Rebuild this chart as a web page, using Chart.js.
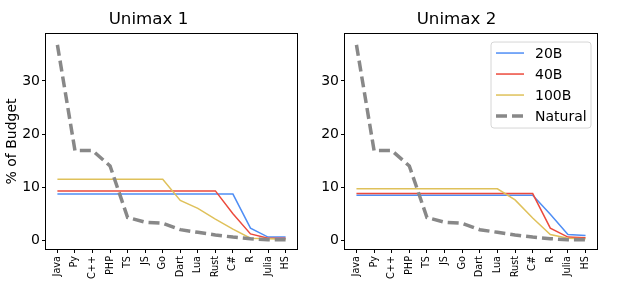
<!DOCTYPE html>
<html><head><meta charset="utf-8">
<script src="https://cdn.jsdelivr.net/npm/chart.js@4.4.1/dist/chart.umd.min.js"></script>
<style>
html,body{margin:0;padding:0;background:#fff;}
#wrap{position:relative;width:632px;height:284px;overflow:hidden;}
.c{position:absolute;top:0;width:316px;height:284px;}
</style></head><body>
<div id="wrap">
<div class="c" style="left:0"><canvas id="c1"></canvas></div>
<div class="c" style="left:316px"><canvas id="c2"></canvas></div>
</div>
<script>
const categories = ['Java','Py','C++','PHP','TS','JS','Go','Dart','Lua','Rust','C#','R','Julia','HS'];
const yTicks = [0, 10, 20, 30];
const seriesNames = ['20B', '40B', '100B', 'Natural'];

const natural = [36.8, 16.9, 16.9, 14.0, 4.3, 3.4, 3.2, 2.0, 1.5, 1.0, 0.6, 0.3, 0.1, 0.1];

const u1_20B  = [8.7, 8.7, 8.7, 8.7, 8.7, 8.7, 8.7, 8.7, 8.7, 8.7, 8.7, 2.3, 0.6, 0.6];
const u1_40B  = [9.3, 9.3, 9.3, 9.3, 9.3, 9.3, 9.3, 9.3, 9.3, 9.3, 5.0, 1.2, 0.4, 0.4];
const u1_100B = [11.5, 11.5, 11.5, 11.5, 11.5, 11.5, 11.5, 7.5, 6.0, 4.0, 2.1, 0.4, 0.3, 0.2];

const u2_20B  = [8.5, 8.5, 8.5, 8.5, 8.5, 8.5, 8.5, 8.5, 8.5, 8.5, 8.5, 4.9, 1.1, 0.9];
const u2_40B  = [8.8, 8.8, 8.8, 8.8, 8.8, 8.8, 8.8, 8.8, 8.8, 8.8, 8.8, 2.3, 0.6, 0.5];
const u2_100B = [9.7, 9.7, 9.7, 9.7, 9.7, 9.7, 9.7, 9.7, 9.7, 7.6, 4.2, 1.1, 0.4, 0.3];

const FONT = 'DejaVu Sans';
const pts = vals => vals.map((v, i) => ({x: i, y: v}));

const framePlugin = {
  id: 'frame',
  afterDatasetsDraw(chart) {
    const ctx = chart.ctx, a = chart.chartArea;
    ctx.save();
    ctx.strokeStyle = '#000';
    ctx.lineWidth = 1;
    ctx.strokeRect(Math.round(a.left) - 0.5, Math.round(a.top) - 0.5,
                   Math.round(a.right - a.left) + 1, Math.round(a.bottom - a.top) + 1);
    ctx.restore();
  }
};

const legendPlugin = {
  id: 'mplLegend',
  afterDraw(chart, args, opts) {
    if (!opts.show) return;
    const ctx = chart.ctx, a = chart.chartArea;
    const w = 100, h = 86;
    const x = a.right - 6 - w, y = a.top + 8;
    ctx.save();
    ctx.beginPath();
    const r = 3;
    ctx.moveTo(x + r, y);
    ctx.lineTo(x + w - r, y); ctx.quadraticCurveTo(x + w, y, x + w, y + r);
    ctx.lineTo(x + w, y + h - r); ctx.quadraticCurveTo(x + w, y + h, x + w - r, y + h);
    ctx.lineTo(x + r, y + h); ctx.quadraticCurveTo(x, y + h, x, y + h - r);
    ctx.lineTo(x, y + r); ctx.quadraticCurveTo(x, y, x + r, y);
    ctx.closePath();
    ctx.fillStyle = 'rgba(255,255,255,0.8)';
    ctx.fill();
    ctx.strokeStyle = '#d6d6d6';
    ctx.lineWidth = 1;
    ctx.stroke();
    chart.data.datasets.forEach((ds, i) => {
      const cy = y + 11 + i * 21;
      ctx.strokeStyle = ds.borderColor;
      ctx.lineWidth = ds.borderWidth;
      ctx.setLineDash(ds.borderDash || []);
      ctx.beginPath(); ctx.moveTo(x + 5, cy); ctx.lineTo(x + 33, cy); ctx.stroke();
      ctx.setLineDash([]);
      ctx.fillStyle = '#000';
      ctx.font = '14px "' + FONT + '"';
      ctx.textBaseline = 'middle';
      ctx.textAlign = 'left';
      ctx.fillText(ds.label, x + 44, cy + 1);
    });
    ctx.restore();
  }
};

function makeChart(id, title, s20, s40, s100, yAxisWidth, rightPad, showYTitle, showLegend) {
  const colors = ['#4f8ef5', '#ec4a3c', '#dfc15a', '#888888'];
  const data = [s20, s40, s100, natural];
  const datasets = data.map((vals, i) => ({
    label: seriesNames[i],
    data: pts(vals),
    borderColor: colors[i],
    backgroundColor: colors[i],
    borderWidth: i === 3 ? 3.5 : 1.5,
    borderDash: i === 3 ? [11, 5] : [],
    pointRadius: 0,
    tension: 0,
    fill: false,
    order: 4 - i
  }));
  return new Chart(document.getElementById(id), {
    type: 'line',
    data: { datasets },
    plugins: [framePlugin, legendPlugin],
    options: {
      responsive: true,
      maintainAspectRatio: false,
      animation: false,
      devicePixelRatio: 1,
      layout: { padding: { left: 0, right: rightPad, top: 0, bottom: 0 } },
      plugins: {
        legend: { display: false },
        tooltip: { enabled: false },
        title: {
          display: true, text: title, color: '#000',
          font: { family: FONT, size: 16.7, weight: 'normal', lineHeight: 1.2 },
          padding: { top: 10, bottom: 4 }
        },
        mplLegend: { show: showLegend }
      },
      scales: {
        x: {
          type: 'linear', min: -0.65, max: 13.65,
          afterBuildTicks: s => { s.ticks = categories.map((_, i) => ({ value: i })); },
          afterFit: s => { s.height = 35; },
          grid: { display: true, drawOnChartArea: false, drawTicks: true, tickLength: 4, color: '#000', lineWidth: 1 },
          border: { display: false },
          ticks: {
            autoSkip: false, minRotation: 90, maxRotation: 90, padding: 3, color: '#000',
            font: { family: FONT, size: 9.7 },
            callback: v => categories[v]
          }
        },
        y: {
          type: 'linear', min: -1.64, max: 38.84,
          afterBuildTicks: s => { s.ticks = yTicks.map(v => ({ value: v })); },
          afterFit: s => { s.width = yAxisWidth; },
          grid: { display: true, drawOnChartArea: false, drawTicks: true, tickLength: 4, color: '#000', lineWidth: 1 },
          border: { display: false },
          ticks: { padding: 2, color: '#000', font: { family: FONT, size: 14 } },
          title: {
            display: showYTitle, text: '% of Budget', color: '#000',
            font: { family: FONT, size: 14, lineHeight: 1.2 },
            padding: { top: 3.6, bottom: 0 }
          }
        }
      }
    }
  });
}

makeChart('c1', 'Unimax 1', u1_20B, u1_40B, u1_100B, 46, 19, true, false);
makeChart('c2', 'Unimax 2', u2_20B, u2_40B, u2_100B, 29, 35, false, true);
</script>
</body></html>
